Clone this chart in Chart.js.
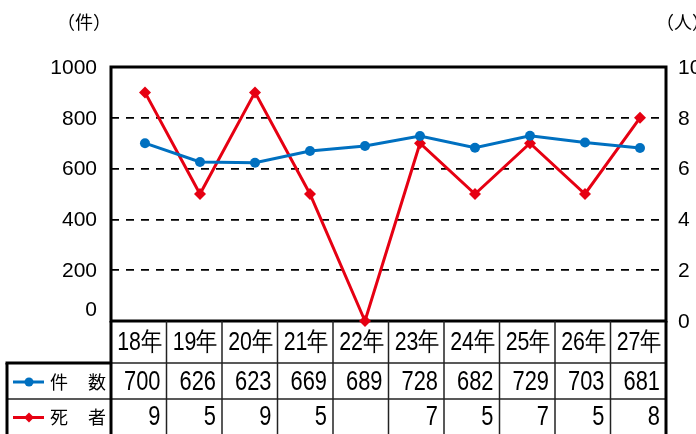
<!DOCTYPE html>
<html>
<head>
<meta charset="utf-8">
<script src="https://cdn.jsdelivr.net/npm/chart.js@4.4.0/dist/chart.umd.min.js"></script>
<style>
html, body { margin: 0; padding: 0; background: #fff; }
#wrap { width: 696px; height: 434px; }
</style>
</head>
<body>
<div id="wrap"><canvas id="chart" width="696" height="434"></canvas></div>
<script>
const years = ["18年", "19年", "20年", "21年", "22年", "23年", "24年", "25年", "26年", "27年"];
const cases = [700, 626, 623, 669, 689, 728, 682, 729, 703, 681];
const deaths = [9, 5, 9, 5, 0, 7, 5, 7, 5, 8];
const leftTicks = [0, 200, 400, 600, 800, 1000];
const rightTicks = [0, 2, 4, 6, 8, 10];
const leftUnit = "（件）";
const rightUnit = "（人）";
const casesName = ["件", "数"];
const deathsName = ["死", "者"];

const BLUE = "#0070C0";
const RED = "#E60012";
const JP = '"Noto Sans CJK JP", "Liberation Sans", sans-serif';
const NUM = '"Liberation Sans", Arial, sans-serif';

function squeezeText(ctx, text, x, y, sx) {
    ctx.save();
    ctx.translate(x, y);
    ctx.scale(sx, 1);
    ctx.fillText(text, 0, 0);
    ctx.restore();
}

function line(ctx, x1, y1, x2, y2, w) {
    ctx.lineWidth = w;
    ctx.beginPath();
    ctx.moveTo(x1, y1);
    ctx.lineTo(x2, y2);
    ctx.stroke();
}

const framePlugin = {
    id: "frame",
    beforeDatasetsDraw(chart) {
        const { ctx, chartArea: a } = chart;
        ctx.save();
        ctx.strokeStyle = "#000";
        ctx.lineWidth = 3;
        ctx.strokeRect(a.left, a.top, a.right - a.left, a.bottom - a.top);
        ctx.restore();
    },
    afterDraw(chart) {
        const { ctx, chartArea: a } = chart;
        const yL = chart.scales.y;
        const yR = chart.scales.y1;
        ctx.save();
        ctx.fillStyle = "#000";

        // axis labels
        ctx.font = "21px " + NUM;
        ctx.textBaseline = "middle";
        ctx.textAlign = "right";
        leftTicks.forEach(v => {
            let py = yL.getPixelForValue(v);
            if (v === 0) py -= 12;
            ctx.fillText(String(v), 97, py + 1);
        });
        ctx.textAlign = "left";
        rightTicks.forEach(v => {
            ctx.fillText(String(v), a.right + 12, yR.getPixelForValue(v) + 1);
        });
        ctx.font = "18px " + JP;
        ctx.textAlign = "left";
        ctx.fillText(leftUnit, 57, 22);
        ctx.fillText(rightUnit, 656, 22);

        // data table
        const step = (a.right - a.left) / years.length;
        const r0 = a.bottom, r1 = 363, r2 = 399, r3 = 436;
        const tableLeft = 7;
        ctx.strokeStyle = "#222";
        for (let i = 1; i < years.length; i++) {
            const x = a.left + i * step;
            line(ctx, x, r0, x, r3, 1.5);
        }
        line(ctx, a.left, r1, a.right, r1, 1.5);
        line(ctx, tableLeft, r2, a.right, r2, 1.5);
        ctx.strokeStyle = "#000";
        line(ctx, tableLeft - 1.5, r1, a.left, r1, 3);
        line(ctx, tableLeft, r1, tableLeft, r3, 3);
        line(ctx, a.left, r0, a.left, r3, 3);
        line(ctx, a.right, r0, a.right, r3, 3);

        // header
        ctx.font = "26px " + NUM;
        ctx.textAlign = "center";
        ctx.textBaseline = "middle";
        years.forEach((t, i) => {
            squeezeText(ctx, t, a.left + (i + 0.5) * step + 1, (r0 + r1) / 2 + 1, 0.82);
        });

        // values
        ctx.font = "28px " + NUM;
        ctx.textAlign = "right";
        const m1 = (r1 + r2) / 2 + 1, m2 = (r2 + r3) / 2;
        cases.forEach((v, i) => {
            squeezeText(ctx, String(v), a.left + (i + 1) * step - 6, m1, 0.78);
        });
        deaths.forEach((v, i) => {
            if (v) squeezeText(ctx, String(v), a.left + (i + 1) * step - 6, m2, 0.78);
        });

        // legend keys
        ctx.strokeStyle = BLUE;
        line(ctx, 13, m1, 44, m1, 3);
        ctx.fillStyle = BLUE;
        ctx.beginPath();
        ctx.arc(29, m1, 4.5, 0, Math.PI * 2);
        ctx.fill();
        ctx.strokeStyle = RED;
        line(ctx, 13, m2, 44, m2, 3);
        ctx.fillStyle = RED;
        ctx.beginPath();
        ctx.moveTo(29, m2 - 5);
        ctx.lineTo(34, m2);
        ctx.lineTo(29, m2 + 5);
        ctx.lineTo(24, m2);
        ctx.closePath();
        ctx.fill();

        ctx.fillStyle = "#000";
        ctx.font = "18px " + JP;
        ctx.textAlign = "left";
        ctx.fillText(casesName[0], 50, m1);
        ctx.fillText(casesName[1], 88, m1);
        ctx.fillText(deathsName[0], 50, m2);
        ctx.fillText(deathsName[1], 88, m2);
        ctx.restore();
    }
};

new Chart(document.getElementById("chart"), {
    type: "line",
    data: {
        datasets: [
            {
                label: "件数",
                data: cases.map((v, i) => ({ x: i, y: v })),
                yAxisID: "y",
                borderColor: BLUE,
                backgroundColor: BLUE,
                borderWidth: 3,
                pointStyle: "circle",
                pointRadius: 5,
                pointBorderWidth: 0,
                pointBackgroundColor: BLUE,
                tension: 0,
                clip: 10
            },
            {
                label: "死者",
                data: deaths.map((v, i) => ({ x: i, y: v })),
                yAxisID: "y1",
                borderColor: RED,
                backgroundColor: RED,
                borderWidth: 3,
                pointStyle: "rectRot",
                pointRadius: 6,
                pointBorderWidth: 0,
                pointBackgroundColor: RED,
                tension: 0,
                clip: 10
            }
        ]
    },
    options: {
        responsive: false,
        animation: false,
        devicePixelRatio: 1,
        layout: { padding: { left: 111, right: 30, top: 67, bottom: 113 } },
        plugins: { legend: { display: false }, tooltip: { enabled: false } },
        scales: {
            x: {
                type: "linear",
                min: -0.618,
                max: 9.473,
                display: false
            },
            y: {
                position: "left",
                min: 0,
                max: 1000,
                ticks: { display: false, stepSize: 200 },
                border: { display: false, dash: [8, 7] },
                grid: {
                    drawTicks: false,
                    lineWidth: 1.8,
                    color: c => (c.tick.value === 0 || c.tick.value === 1000) ? "rgba(0,0,0,0)" : "#000"
                },
                afterFit: s => { s.width = 0; }
            },
            y1: {
                position: "right",
                min: 0,
                max: 10,
                ticks: { display: false, stepSize: 2 },
                border: { display: false },
                grid: { display: false },
                afterFit: s => { s.width = 0; }
            }
        }
    },
    plugins: [framePlugin]
});
</script>
</body>
</html>
